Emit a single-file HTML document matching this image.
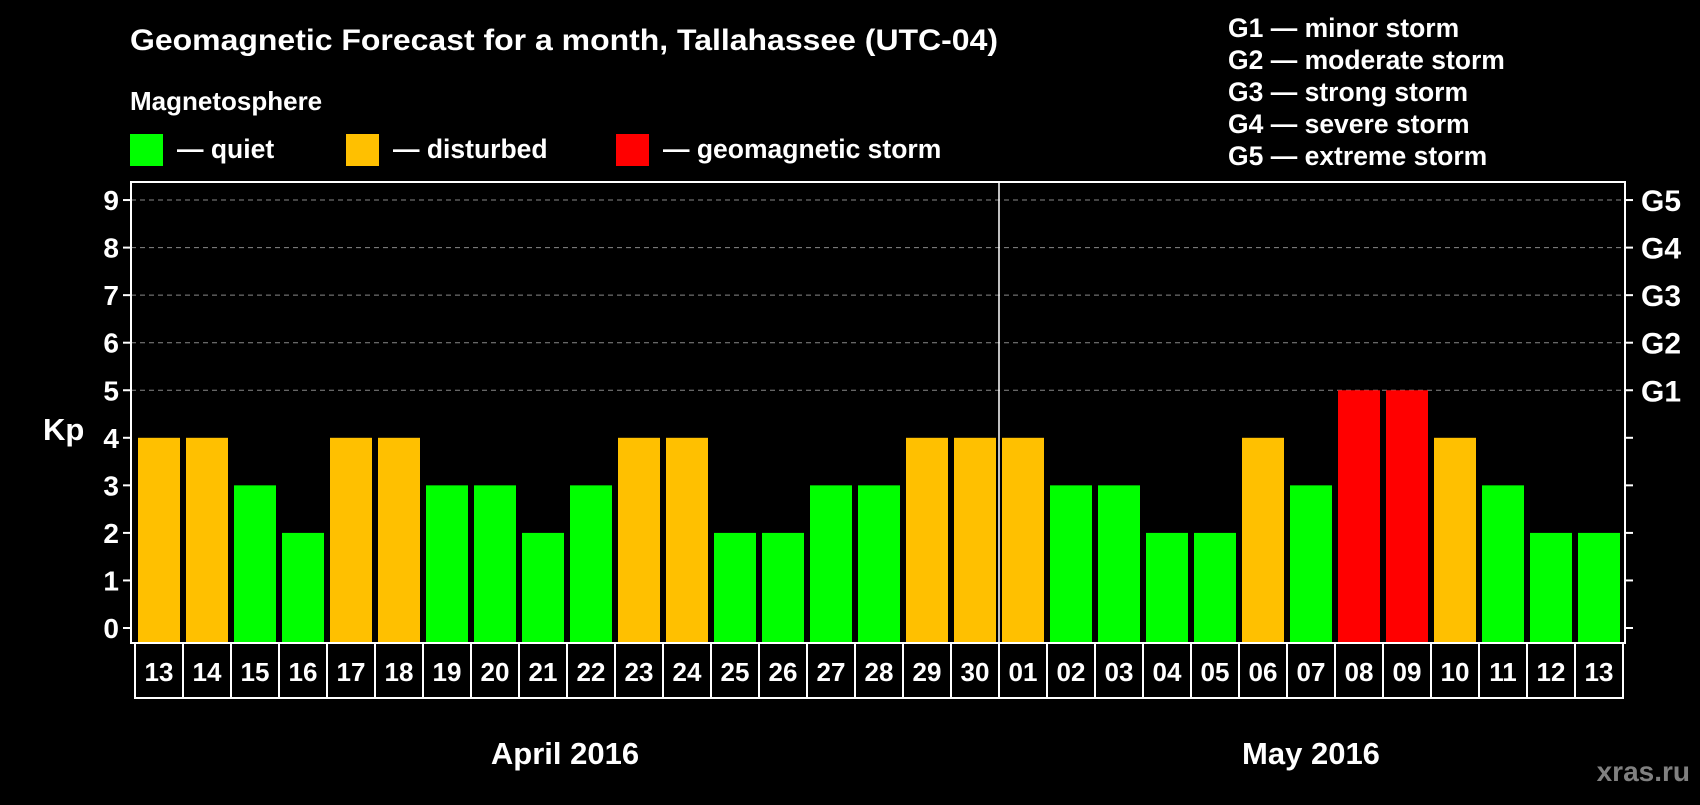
<!DOCTYPE html>
<html><head><meta charset="utf-8"><style>
body{margin:0;background:#000;width:1700px;height:800px;overflow:hidden;font-family:"Liberation Sans",Arial,sans-serif;}
svg text{font-family:"Liberation Sans",Arial,sans-serif;font-weight:bold;fill:#fff;}
</style></head><body>
<svg id="c" width="1700" height="800">
<text x="130" y="50" font-size="30" textLength="868" lengthAdjust="spacingAndGlyphs">Geomagnetic Forecast for a month, Tallahassee (UTC-04)</text>
<text x="130" y="110" font-size="26">Magnetosphere</text>
<g><rect x="130" y="134" width="33" height="32" fill="#00ff00"/><text x="177" y="158" font-size="26.5">— quiet</text></g>
<g><rect x="346" y="134" width="33" height="32" fill="#ffc000"/><text x="393" y="158" font-size="26.5">— disturbed</text></g>
<g><rect x="616" y="134" width="33" height="32" fill="#ff0000"/><text x="663" y="158" font-size="26.5">— geomagnetic storm</text></g>
<g font-size="26.5">
<text x="1228" y="37">G1 — minor storm</text>
<text x="1228" y="69">G2 — moderate storm</text>
<text x="1228" y="101">G3 — strong storm</text>
<text x="1228" y="133">G4 — severe storm</text>
<text x="1228" y="165">G5 — extreme storm</text>
</g>
<text x="43" y="440" font-size="31">Kp</text>
<g id="grid"></g><g id="bars"></g><g id="axes"></g>
<text x="565" y="764" font-size="31" text-anchor="middle">April 2016</text>
<text x="1311" y="764" font-size="31" text-anchor="middle">May 2016</text>
<text x="1690" y="781" font-size="28" text-anchor="end" style="fill:#808080">xras.ru</text>
</svg>
<script>
const days=["13","14","15","16","17","18","19","20","21","22","23","24","25","26","27","28","29","30","01","02","03","04","05","06","07","08","09","10","11","12","13"];
const kp=[4,4,3,2,4,4,3,3,2,3,4,4,2,2,3,3,4,4,4,3,3,2,2,4,3,5,5,4,3,2,2];
const yTicks=[0,1,2,3,4,5,6,7,8,9];
const gLabels=["G1","G2","G3","G4","G5"];
const NS="http://www.w3.org/2000/svg";
const L=131,R=1625,T=182,B=643;
const y=v=>628-v*47.55;
const cx=i=>159+i*48;
function mk(t,a,p){const e=document.createElementNS(NS,t);for(const k in a)e.setAttribute(k,a[k]);p.appendChild(e);return e;}
const grid=document.getElementById('grid'),bars=document.getElementById('bars'),axes=document.getElementById('axes');
yTicks.forEach(v=>{
 if(v>=5){const g=mk('line',{x1:L,x2:R,y1:y(v),y2:y(v),stroke:'#888','stroke-dasharray':'5,4','stroke-width':1},grid);
 }
 mk('line',{x1:L-8,x2:L,y1:y(v),y2:y(v),stroke:'#fff','stroke-width':2},axes);
 mk('line',{x1:R,x2:R+8,y1:y(v),y2:y(v),stroke:'#fff','stroke-width':2},axes);
 const t=mk('text',{x:L-12,y:y(v)+10,'font-size':28,'text-anchor':'end'},axes);t.textContent=v;
 
});
gLabels.forEach((g,i)=>{const t=mk('text',{x:R+16,y:y(i+5)+11,'font-size':30},axes);t.textContent=g;
 });
kp.forEach((v,i)=>{
 const col=v>=5?'#ff0000':v>=4?'#ffc000':'#00ff00';
 const r=mk('rect',{x:cx(i)-21,y:y(v),width:42,height:y(0)+15-y(v),fill:col},bars);
 
 mk('rect',{x:cx(i)-24,y:B,width:48,height:55,fill:'none',stroke:'#fff','stroke-width':2},axes);
 const t=mk('text',{x:cx(i),y:B+38,'font-size':26,'text-anchor':'middle'},axes);t.textContent=days[i];
 
});
const f=mk('rect',{x:L,y:T,width:R-L,height:B-T,fill:'none',stroke:'#fff','stroke-width':2},axes);

const d=mk('line',{x1:cx(18)-24,x2:cx(18)-24,y1:T,y2:B,stroke:'#fff','stroke-width':1.5},axes);

</script>
</body></html>
